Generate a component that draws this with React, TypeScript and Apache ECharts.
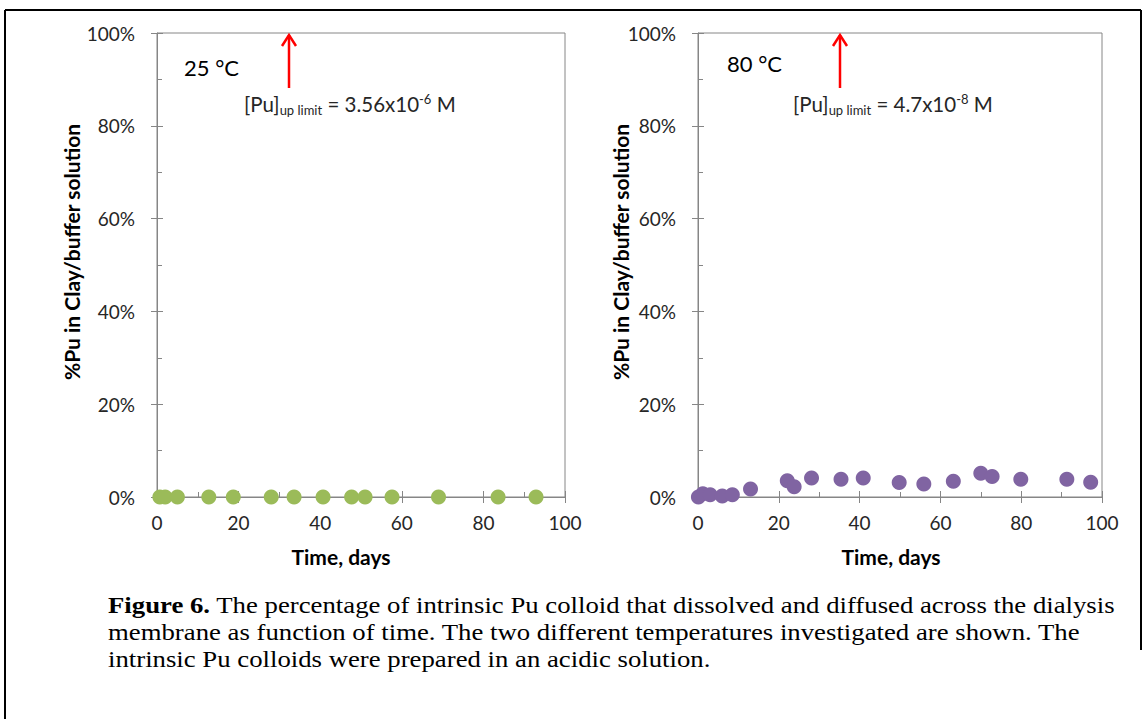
import React, { useEffect, useRef } from "react";
import * as echarts from "echarts";

// ---- data ----
const xTicks = [0, 20, 40, 60, 80, 100];
const yTicks = [0, 20, 40, 60, 80, 100];
const days25 = [0.7, 2, 5, 12.7, 18.7, 28, 33.6, 40.7, 47.7, 51, 57.6, 69, 83.6, 92.9];
const pct25 = [0, 0, 0, 0, 0, 0, 0, 0, 0, 0, 0, 0, 0, 0];
const days80 = [0.1, 1.2, 3.0, 6.0, 8.5, 13.0, 22.1, 23.8, 28.1, 35.4, 40.9, 49.8, 55.9, 63.2, 70.0, 72.8, 79.9, 91.3, 97.2];
const pct80 = [0, 0.7, 0.5, 0.2, 0.5, 1.7, 3.5, 2.2, 4.1, 3.8, 4.1, 3.1, 2.8, 3.4, 5.1, 4.4, 3.8, 3.8, 3.2];
const panelLabels = ["25 °C", "80 °C"];
const limitMantissa = ["3.56", "4.7"];
const limitExp = ["-6", "-8"];
const yName = "%Pu in Clay/buffer solution";
const xName = "Time, days";
const captionLines = [
  "The percentage of intrinsic Pu colloid that dissolved and diffused across the dialysis",
  "membrane as function of time. The two different temperatures investigated are shown. The",
  "intrinsic Pu colloids were prepared in an acidic solution.",
];

const AX = "#868686";
const LBL = "#262626";
const FONT = "Lato, 'Open Sans', sans-serif";
const SERIF = "'Liberation Serif', 'Times New Roman', serif";

export default function App() {
  const ref = useRef<HTMLDivElement>(null);
  useEffect(() => {
    if (!ref.current) return;
    const chart = echarts.init(ref.current, null, { renderer: "svg" });
    const grids = [
      { left: 157, top: 33, width: 408, height: 464 },
      { left: 698, top: 33, width: 404, height: 464 },
    ];
    const xAxes: any[] = [];
    const yAxes: any[] = [];
    grids.forEach((_, gi) => {
      xAxes.push({
        type: "value", gridIndex: gi, min: xTicks[0], max: xTicks[xTicks.length - 1], interval: 20,
        axisLine: { show: true, lineStyle: { color: AX, width: 1 } },
        axisTick: { show: true, length: 6, lineStyle: { color: AX } },
        axisLabel: { margin: 16, color: LBL, fontSize: 19, fontFamily: FONT },
        splitLine: { show: false },
      });
      xAxes.push({
        type: "value", gridIndex: gi, min: xTicks[0], max: xTicks[xTicks.length - 1], interval: 20,
        position: "bottom",
        axisLine: { show: false },
        axisTick: { show: true, inside: true, length: 6, lineStyle: { color: AX } },
        minorTick: { show: true, splitNumber: 2, length: 5, lineStyle: { color: AX } },
        axisLabel: { show: false },
        splitLine: { show: false },
      });
      yAxes.push({
        type: "value", gridIndex: gi, min: yTicks[0], max: yTicks[yTicks.length - 1], interval: 20,
        axisLine: { show: true, lineStyle: { color: AX, width: 1 } },
        axisTick: { show: true, length: 6, lineStyle: { color: AX } },
        axisLabel: { margin: 22, color: LBL, fontSize: 19, fontFamily: FONT, formatter: "{value}%" },
        splitLine: { show: false },
      });
      yAxes.push({
        type: "value", gridIndex: gi, min: yTicks[0], max: yTicks[yTicks.length - 1], interval: 20,
        position: "left",
        axisLine: { show: false },
        axisTick: { show: true, inside: true, length: 6, lineStyle: { color: AX } },
        minorTick: { show: true, splitNumber: 2, length: 5, lineStyle: { color: AX } },
        axisLabel: { show: false },
        splitLine: { show: false },
      });
    });

    const arrow = (x: number) => [
      { type: "line", shape: { x1: x, y1: 88, x2: x, y2: 35 }, style: { stroke: "#FF0000", lineWidth: 2.5 } },
      { type: "polyline", shape: { points: [[x - 7, 46], [x, 35], [x + 7, 46]] }, style: { stroke: "#FF0000", lineWidth: 2.5, fill: null } },
    ];
    const limitText = (x: number, i: number) => ({
      type: "text", left: x, top: 92,
      style: {
        text: `[Pu]{sub|up limit} = ${limitMantissa[i]}x10{sup|${limitExp[i]}} M`,
        font: `20.5px ${FONT}`, fill: LBL, lineHeight: 24,
        rich: {
          sub: { fontSize: 13, fontFamily: FONT, verticalAlign: "bottom", lineHeight: 14, fill: LBL },
          sup: { fontSize: 13, fontFamily: FONT, verticalAlign: "top", lineHeight: 14, fill: LBL },
        },
      },
    });

    const graphic: any[] = [
      { type: "line", shape: { x1: 5, y1: 10, x2: 1141, y2: 10 }, style: { stroke: "#000", lineWidth: 2 } },
      { type: "line", shape: { x1: 5, y1: 10, x2: 5, y2: 719 }, style: { stroke: "#000", lineWidth: 2 } },
      { type: "line", shape: { x1: 1141, y1: 10, x2: 1141, y2: 650 }, style: { stroke: "#000", lineWidth: 2 } },
      { type: "text", left: 184, top: 56, style: { text: panelLabels[0], font: `22px ${FONT}`, fill: "#000" } },
      { type: "text", left: 727, top: 52, style: { text: panelLabels[1], font: `22px ${FONT}`, fill: "#000" } },
      ...arrow(289),
      ...arrow(840),
      limitText(244, 0),
      limitText(793, 1),
      { type: "text", x: 71, y: 252, rotation: Math.PI / 2, style: { text: yName, font: `bold 21px ${FONT}`, fill: "#000", align: "center", verticalAlign: "middle" } },
      { type: "text", x: 620, y: 252, rotation: Math.PI / 2, style: { text: yName, font: `bold 21px ${FONT}`, fill: "#000", align: "center", verticalAlign: "middle" } },
      { type: "text", x: 341, y: 556, style: { text: xName, font: `bold 21px ${FONT}`, fill: "#000", align: "center", verticalAlign: "middle" } },
      { type: "text", x: 891, y: 556, style: { text: xName, font: `bold 21px ${FONT}`, fill: "#000", align: "center", verticalAlign: "middle" } },
      {
        type: "text", x: 108, y: 605, scaleX: 1.115,
        style: {
          text: `{b|Figure 6.} ${captionLines[0]}`,
          font: `24px ${SERIF}`, fill: "#000", verticalAlign: "middle",
          rich: { b: { fontWeight: "bold", fontSize: 24, fontFamily: SERIF, fill: "#000" } },
        },
      },
      { type: "text", x: 108, y: 632, scaleX: 1.115, style: { text: captionLines[1], font: `24px ${SERIF}`, fill: "#000", verticalAlign: "middle" } },
      { type: "text", x: 108, y: 659, scaleX: 1.115, style: { text: captionLines[2], font: `24px ${SERIF}`, fill: "#000", verticalAlign: "middle" } },
    ];

    chart.setOption({
      animation: false,
      backgroundColor: "#fff",
      grid: grids.map((g) => ({ ...g, show: true, borderColor: AX, borderWidth: 1, backgroundColor: "transparent" })),
      xAxis: xAxes,
      yAxis: yAxes,
      series: [
        {
          type: "scatter", xAxisIndex: 0, yAxisIndex: 0, symbolSize: 15,
          itemStyle: { color: "#9BBB59", opacity: 1 },
          data: days25.map((d, i) => [d, pct25[i]]),
        },
        {
          type: "scatter", xAxisIndex: 2, yAxisIndex: 2, symbolSize: 15,
          itemStyle: { color: "#8064A2", opacity: 1 },
          data: days80.map((d, i) => [d, pct80[i]]),
        },
      ],
      graphic,
    });
    return () => chart.dispose();
  }, []);
  return <div ref={ref} style={{ position: "absolute", left: 0, top: 0, width: 1146, height: 719 }} />;
}
